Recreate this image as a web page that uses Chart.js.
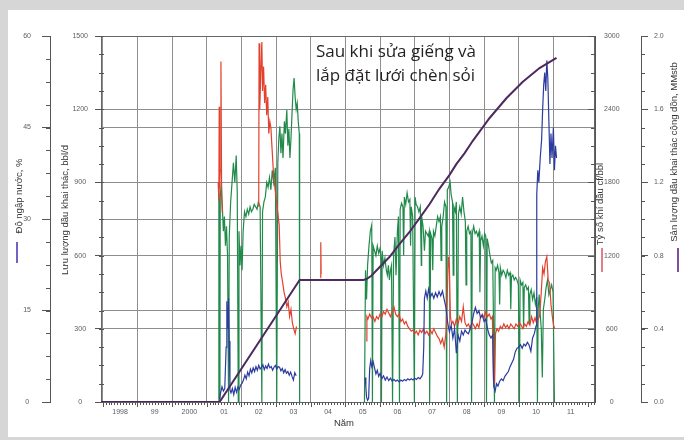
<!DOCTYPE html>
<html>
<head>
<meta charset="utf-8">
<script src="https://cdn.jsdelivr.net/npm/chart.js@4.4.1/dist/chart.umd.min.js"></script>
<style>
  html, body { margin: 0; padding: 0; background: #fff; }
  canvas { display: block; }
</style>
</head>
<body>
<canvas id="wellChart" width="684" height="440"></canvas>
<script>
// time axis: one gridline per year, short labels centred inside each year
const yearTicks = [1998, 1999, 2000, 2001, 2002, 2003, 2004, 2005, 2006, 2007, 2008, 2009, 2010, 2011];
const yearLabels = ['1998', '99', '2000', '01', '02', '03', '04', '05', '06', '07', '08', '09', '10', '11'];

// cumulative oil, MMstb  [year, value]
const cumOil = [
  [1997.95, 0], [2001.37, 0], [2003.68, 0.667], [2005.52, 0.667], [2005.61, 0.672], [2005.75, 0.69],
  [2005.99, 0.738], [2006.27, 0.792], [2006.56, 0.863], [2006.85, 0.929], [2007.14, 1.005],
  [2007.43, 1.082], [2007.71, 1.165], [2008.00, 1.240], [2008.20, 1.300], [2008.44, 1.360],
  [2008.67, 1.426], [2009.16, 1.552], [2009.65, 1.661], [2010.11, 1.749], [2010.60, 1.825], [2011.09, 1.880]
];

// oil rate, bbl/d  [year, value]
const oilRate = [
  [2001.34, 0], [2001.35, 880], [2001.36, 760], [2001.38, 0], [2001.39, 840], [2001.42, 900], [2001.45, 800],
  [2001.48, 700], [2001.51, 760], [2001.54, 640], [2001.57, 720], [2001.60, 600], [2001.63, 0], [2001.65, 680],
  [2001.69, 820], [2001.73, 900], [2001.77, 980], [2001.81, 900], [2001.85, 1010], [2001.88, 860], [2001.91, 0],
  [2001.93, 700], [2001.96, 560], [2001.99, 640], [2002.02, 540], [2002.05, 700], [2002.09, 780], [2002.13, 760],
  [2002.17, 790], [2002.21, 770], [2002.25, 800], [2002.29, 780], [2002.33, 790], [2002.37, 810], [2002.41, 800],
  [2002.45, 790], [2002.49, 820], [2002.54, 800], [2002.59, 0], [2002.61, 780], [2002.65, 820], [2002.69, 840],
  [2002.73, 900], [2002.77, 880], [2002.81, 920], [2002.85, 870], [2002.89, 950], [2002.93, 900], [2002.98, 960],
  [2003.02, 0], [2003.05, 980], [2003.08, 1080], [2003.11, 1130], [2003.14, 1020], [2003.17, 1100], [2003.20, 1000],
  [2003.24, 1150], [2003.27, 1100], [2003.31, 1197], [2003.34, 1050], [2003.37, 1120], [2003.40, 1000],
  [2003.43, 1080], [2003.46, 1180], [2003.49, 1280], [2003.52, 1328], [2003.55, 1250], [2003.58, 1200],
  [2003.61, 1225], [2003.64, 1150], [2003.67, 1100], [2003.68, 0], [2004.5, null],
  [2005.55, 0], [2005.58, 540], [2005.61, 420], [2005.64, 560], [2005.68, 640], [2005.72, 700], [2005.76, 726],
  [2005.78, 0], [2005.80, 640], [2005.84, 620], [2005.88, 600], [2005.92, 640], [2005.96, 610], [2006.00, 630],
  [2006.03, 580], [2006.04, 0], [2006.06, 620], [2006.10, 560], [2006.14, 590], [2006.18, 540], [2006.21, 520],
  [2006.24, 560], [2006.27, 500], [2006.30, 540], [2006.33, 560], [2006.36, 0], [2006.39, 600], [2006.43, 676],
  [2006.46, 520], [2006.50, 700], [2006.53, 760], [2006.56, 0], [2006.58, 790], [2006.62, 815], [2006.66, 800],
  [2006.68, 600], [2006.70, 840], [2006.74, 810], [2006.78, 857], [2006.82, 820], [2006.86, 830], [2006.88, 640],
  [2006.90, 800], [2006.94, 760], [2006.99, 0], [2007.01, 840], [2007.04, 810], [2007.08, 800], [2007.12, 780],
  [2007.16, 800], [2007.19, 560], [2007.20, 760], [2007.24, 720], [2007.28, 620], [2007.31, 700], [2007.35, 690],
  [2007.39, 680], [2007.42, 700], [2007.43, 0], [2007.46, 690], [2007.50, 670], [2007.52, 540], [2007.54, 700],
  [2007.58, 680], [2007.62, 720], [2007.66, 760], [2007.70, 740], [2007.74, 760], [2007.76, 580], [2007.78, 720],
  [2007.82, 760], [2007.86, 820], [2007.90, 800], [2007.92, 0], [2007.94, 869], [2007.98, 881], [2008.02, 902],
  [2008.05, 850], [2008.09, 820], [2008.11, 520], [2008.13, 800], [2008.17, 780], [2008.20, 820], [2008.23, 0],
  [2008.26, 770], [2008.30, 800], [2008.34, 770], [2008.38, 840], [2008.42, 780], [2008.46, 740], [2008.48, 480],
  [2008.50, 700], [2008.54, 720], [2008.58, 690], [2008.62, 700], [2008.64, 0], [2008.66, 690], [2008.70, 720],
  [2008.74, 690], [2008.78, 700], [2008.82, 680], [2008.86, 700], [2008.88, 450], [2008.90, 660], [2008.94, 680],
  [2008.98, 640], [2009.02, 690], [2009.05, 680], [2009.07, 0], [2009.09, 670], [2009.13, 640], [2009.17, 600],
  [2009.21, 570], [2009.25, 580], [2009.30, 0], [2009.32, 550], [2009.35, 540], [2009.39, 560], [2009.43, 530],
  [2009.45, 400], [2009.47, 550], [2009.51, 520], [2009.55, 540], [2009.59, 530], [2009.63, 510], [2009.67, 540],
  [2009.71, 520], [2009.75, 530], [2009.77, 380], [2009.79, 510], [2009.83, 520], [2009.87, 500], [2009.91, 510],
  [2009.95, 500], [2009.99, 480], [2010.02, 0], [2010.04, 500], [2010.08, 480], [2010.12, 490], [2010.14, 300],
  [2010.16, 470], [2010.20, 480], [2010.24, 460], [2010.28, 470], [2010.30, 320], [2010.32, 440], [2010.36, 460],
  [2010.40, 420], [2010.44, 447], [2010.48, 400], [2010.52, 430], [2010.54, 0], [2010.56, 380], [2010.59, 440],
  [2010.62, 360], [2010.65, 300], [2010.68, 100], [2010.71, 380], [2010.75, 420], [2010.79, 470], [2010.83, 500],
  [2010.87, 440], [2010.91, 460], [2010.95, 480], [2010.99, 450], [2011.03, 0]
];

// gas-oil ratio, cf/bbl  [year, value]
const gorRatio = [
  [2001.33, 1800], [2001.35, 1650], [2001.36, 2420], [2001.37, 1750], [2001.39, 1900], [2001.41, 2790],
  [2001.43, 1700], [2001.45, 1550], [2001.47, null],
  [2002.50, 1600], [2002.51, 2940], [2002.53, 2400], [2002.56, 2700], [2002.59, 2950], [2002.61, 2550],
  [2002.64, 2750], [2002.67, 2450], [2002.70, 2600], [2002.73, 2350], [2002.76, 2500], [2002.79, 2200],
  [2002.82, 2300], [2002.85, 2250], [2002.89, 2050], [2002.93, 1850], [2002.97, 1750], [2003.01, 1650],
  [2003.05, 1550], [2003.09, 1450], [2003.12, 1150], [2003.15, 1050], [2003.19, 980], [2003.23, 900],
  [2003.27, 850], [2003.31, 780], [2003.35, 820], [2003.39, 700], [2003.43, 760], [2003.47, 650],
  [2003.51, 600], [2003.55, 560], [2003.59, 620], [2003.62, null],
  [2004.28, 1020], [2004.29, 1310], [2004.30, 1050], [2004.5, null],
  [2005.60, 500], [2005.62, 700], [2005.65, 680], [2005.70, 720], [2005.75, 690], [2005.80, 700], [2005.85, 660],
  [2005.90, 700], [2005.95, 680], [2006.00, 720], [2006.05, 700], [2006.10, 740], [2006.15, 720], [2006.20, 760],
  [2006.25, 730], [2006.30, 700], [2006.35, 740], [2006.40, 780], [2006.45, 720], [2006.50, 700], [2006.55, 720],
  [2006.60, 660], [2006.65, 680], [2006.70, 640], [2006.75, 660], [2006.80, 620], [2006.85, 600], [2006.90, 580],
  [2006.95, 590], [2007.00, 560], [2007.05, 580], [2007.10, 550], [2007.15, 590], [2007.20, 570], [2007.25, 600],
  [2007.30, 560], [2007.35, 580], [2007.40, 550], [2007.45, 590], [2007.50, 560], [2007.55, 600], [2007.60, 570],
  [2007.65, 540], [2007.70, 520], [2007.75, 480], [2007.80, 520], [2007.85, 450], [2007.90, 560], [2007.94, 900],
  [2007.97, 1190], [2008.00, 1100], [2008.03, 700], [2008.06, 640], [2008.10, 660], [2008.15, 620], [2008.20, 680],
  [2008.25, 640], [2008.30, 700], [2008.35, 660], [2008.40, 780], [2008.45, 650], [2008.50, 620], [2008.55, 640],
  [2008.60, 600], [2008.65, 650], [2008.70, 630], [2008.75, 600], [2008.80, 640], [2008.85, 610], [2008.90, 700],
  [2008.95, 720], [2009.00, 690], [2009.05, 740], [2009.10, 700], [2009.15, 720], [2009.20, 680], [2009.24, 700],
  [2009.27, 180], [2009.30, 160], [2009.33, 560], [2009.37, 600], [2009.42, 580], [2009.47, 620], [2009.52, 600],
  [2009.57, 640], [2009.62, 610], [2009.67, 630], [2009.72, 600], [2009.77, 640], [2009.82, 620], [2009.87, 600],
  [2009.92, 640], [2009.97, 620], [2010.02, 650], [2010.07, 630], [2010.12, 600], [2010.17, 640], [2010.22, 620],
  [2010.27, 660], [2010.32, 630], [2010.37, 700], [2010.42, 650], [2010.47, 690], [2010.52, 640], [2010.56, 680],
  [2010.60, 700], [2010.65, 900], [2010.69, 1100], [2010.73, 1050], [2010.77, 1150], [2010.81, 1190],
  [2010.85, 1000], [2010.89, 975], [2010.93, 800], [2010.97, 700], [2011.01, 620], [2011.04, 600]
];

// water cut, %  [year, value]
const waterCut = [
  [2001.37, 0.5], [2001.40, 1.5], [2001.44, 2.5], [2001.48, 1.8], [2001.52, 2.2], [2001.56, 9], [2001.58, 16.5],
  [2001.61, 12], [2001.63, 17], [2001.65, 10], [2001.67, 2], [2001.70, 1.5], [2001.74, 2.2], [2001.78, 1.2],
  [2001.82, 2.4], [2001.86, 1.6], [2001.90, 2.5], [2001.94, 2.1], [2001.98, 2.8], [2002.02, 3.1], [2002.06, 3.6],
  [2002.10, 4.4], [2002.14, 3.8], [2002.18, 4.9], [2002.22, 4.3], [2002.26, 5.4], [2002.30, 4.8], [2002.34, 5.6],
  [2002.38, 5.0], [2002.42, 5.8], [2002.46, 5.2], [2002.50, 6.0], [2002.54, 5.4], [2002.58, 5.7], [2002.62, 6.1],
  [2002.66, 5.3], [2002.70, 5.9], [2002.74, 5.5], [2002.78, 6.2], [2002.82, 5.6], [2002.86, 5.8], [2002.90, 5.2],
  [2002.94, 5.7], [2002.98, 6.0], [2003.02, 5.4], [2003.06, 5.8], [2003.10, 5.7], [2003.14, 5.1], [2003.18, 5.5],
  [2003.22, 4.8], [2003.26, 5.3], [2003.30, 4.7], [2003.34, 5.0], [2003.38, 4.4], [2003.42, 4.9], [2003.46, 4.2],
  [2003.50, 3.6], [2003.54, 4.8], [2003.58, 4.3], [2003.61, null],
  [2005.57, 4], [2005.59, 2.5], [2005.61, 0.8], [2005.64, 0.3], [2005.67, 0.6], [2005.70, 5.5], [2005.73, 6.8],
  [2005.76, 5.8], [2005.80, 6.6], [2005.84, 5.6], [2005.88, 4.6], [2005.92, 5.2], [2005.96, 4.2], [2006.00, 4.7],
  [2006.05, 3.8], [2006.10, 4.3], [2006.15, 3.6], [2006.20, 4.1], [2006.25, 3.5], [2006.30, 3.9], [2006.35, 3.4],
  [2006.40, 3.7], [2006.45, 3.4], [2006.50, 3.6], [2006.55, 3.3], [2006.60, 3.6], [2006.65, 3.4], [2006.70, 3.7],
  [2006.75, 3.5], [2006.80, 3.8], [2006.85, 3.6], [2006.90, 3.8], [2006.95, 3.6], [2007.00, 3.9], [2007.05, 3.7],
  [2007.10, 4.0], [2007.15, 3.8], [2007.20, 4.2], [2007.23, 4.6], [2007.26, 9], [2007.28, 17], [2007.32, 18.2],
  [2007.36, 17], [2007.40, 18.5], [2007.45, 17.2], [2007.50, 17.8], [2007.55, 17], [2007.60, 17.9], [2007.65, 17.2],
  [2007.70, 18.1], [2007.75, 17.4], [2007.80, 18.2], [2007.85, 16.8], [2007.90, 15.5], [2007.95, 13], [2008.00, 11.5],
  [2008.05, 12.6], [2008.10, 10.5], [2008.15, 12], [2008.20, 8], [2008.25, 11], [2008.30, 10], [2008.35, 11.6],
  [2008.40, 11], [2008.45, 11.8], [2008.50, 11.4], [2008.55, 11.2], [2008.60, 12], [2008.65, 13], [2008.70, 14.5],
  [2008.75, 15.5], [2008.80, 14.5], [2008.85, 15], [2008.90, 13.8], [2008.95, 14.2], [2009.00, 13.2], [2009.05, 13.6],
  [2009.10, 12], [2009.15, 11], [2009.20, 10.5], [2009.25, 11], [2009.28, 2.5], [2009.32, 1.8], [2009.36, 3],
  [2009.40, 2.6], [2009.45, 3.4], [2009.50, 3.8], [2009.55, 3.5], [2009.60, 4.2], [2009.65, 4.6], [2009.70, 5],
  [2009.75, 5.8], [2009.80, 6.4], [2009.85, 7], [2009.90, 8.2], [2009.95, 8.8], [2010.00, 9], [2010.05, 9.4],
  [2010.10, 8.8], [2010.15, 9.5], [2010.20, 9.2], [2010.25, 9.8], [2010.30, 9.3], [2010.35, 8.3], [2010.40, 10.5],
  [2010.45, 11.2], [2010.50, 12.5], [2010.52, 34], [2010.55, 38], [2010.58, 36], [2010.62, 40], [2010.66, 43],
  [2010.69, 48], [2010.72, 52], [2010.75, 54], [2010.78, 51], [2010.81, 56], [2010.84, 53], [2010.87, 46],
  [2010.90, 39], [2010.93, 44], [2010.96, 40], [2011.00, 45], [2011.03, 38], [2011.06, 42], [2011.09, 40]
];

const titles = {
  water: 'Độ ngập nước, %',
  oil: 'Lưu lượng dầu khai thác, bbl/d',
  gor: 'Tỷ số khí dầu cf/bbl',
  cum: 'Sản lượng dầu khai thác cộng dồn, MMstb',
  year: 'Năm'
};
const noteLines = ['Sau khi sửa giếng và', 'lắp đặt lưới chèn sỏi'];

const colors = {
  oil: '#218a4b',
  gor: '#e2412d',
  water: '#2b3b9f',
  cum: '#4d2a5e',
  grid: '#8e8e8e',
  axis: '#555555',
  tick: '#5c5c5c'
};
const tickFont = { family: 'Liberation Sans, Arial, sans-serif', size: 7 };
const plain = v => String(v);

const toPoints = rows => rows.map(([x, y]) => ({ x, y }));
const yearGrid = scale => { scale.ticks = yearTicks.map(value => ({ value })); };

function series(label, rows, axis, color, width) {
  return {
    label,
    data: toPoints(rows),
    xAxisID: 'x',
    yAxisID: axis,
    borderColor: color,
    borderWidth: width,
    pointRadius: 0,
    tension: 0,
    spanGaps: false
  };
}

function vText(ctx, text, x, y) {
  ctx.save();
  ctx.translate(x, y);
  ctx.rotate(-Math.PI / 2);
  ctx.fillText(text, 0, 0);
  ctx.restore();
}

// frame, minor ticks, axis titles with their colour keys, and the note
const decorations = {
  id: 'decorations',
  beforeDraw(chart) {
    const { ctx, width, height } = chart;
    ctx.save();
    ctx.fillStyle = '#d6d6d6';
    ctx.fillRect(0, 0, width, height);
    ctx.fillStyle = '#ffffff';
    ctx.fillRect(8, 10, width - 8, height - 13);
    ctx.restore();
  },
  beforeDatasetsDraw(chart) {
    const { ctx, chartArea: a } = chart;
    ctx.save();
    ctx.strokeStyle = '#666';
    ctx.lineWidth = 1;
    ctx.strokeRect(a.left + 0.5, a.top + 0.5, a.right - a.left - 1, a.bottom - a.top);
    ctx.restore();
  },
  afterDraw(chart) {
    const { ctx, scales: s, chartArea: a } = chart;
    ctx.save();
    ctx.strokeStyle = colors.axis;
    ctx.lineWidth = 1;
    ctx.beginPath();
    const marks = (scale, step, x0, x1) => {
      const n = Math.round((scale.max - scale.min) / step);
      for (let i = 0; i <= n; i++) {
        const y = Math.round(scale.getPixelForValue(scale.min + i * step)) + 0.5;
        ctx.moveTo(x0, y);
        ctx.lineTo(x1, y);
      }
    };
    marks(s.yWater, 3.75, s.yWater.right - 4, s.yWater.right);
    marks(s.yOil, 75, s.yOil.right - 2, s.yOil.right + 3);
    marks(s.yGor, 150, s.yGor.left - 4, s.yGor.left);
    marks(s.yGor, 600, s.yGor.left - 7, s.yGor.left);
    marks(s.yCum, 0.1, s.yCum.left, s.yCum.left + 4);
    // monthly ticks under the time axis
    const months = Math.floor((s.x.max - 1998) * 12);
    for (let m = 0; m <= months; m++) {
      const x = Math.round(s.x.getPixelForValue(1998 + m / 12)) + 0.5;
      ctx.moveTo(x, a.bottom);
      ctx.lineTo(x, a.bottom + (m % 12 === 0 ? 5 : 3));
    }
    ctx.stroke();

    ctx.fillStyle = '#333';
    ctx.textAlign = 'center';
    ctx.textBaseline = 'middle';
    ctx.font = '9.5px "Liberation Sans", Arial, sans-serif';
    vText(ctx, titles.water, 19, 196);
    vText(ctx, titles.oil, 65, 210);
    vText(ctx, titles.gor, 600, 204);
    vText(ctx, titles.cum, 674, 152);
    ctx.fillText(titles.year, 344, 423);

    ctx.lineWidth = 2;
    [[17, 242, 263, '#6f63c4'], [602, 248, 272, '#e47d8e'], [678, 248, 272, '#7e4f9b']].forEach(([x, y0, y1, c]) => {
      ctx.strokeStyle = c;
      ctx.beginPath();
      ctx.moveTo(x, y0);
      ctx.lineTo(x, y1);
      ctx.stroke();
    });

    ctx.fillStyle = '#231f20';
    ctx.textAlign = 'left';
    ctx.font = '17px "Open Sans", sans-serif';
    ctx.fillText(noteLines[0], 316, 52);
    ctx.fillText(noteLines[1], 316, 76);
    ctx.restore();
  }
};

new Chart(document.getElementById('wellChart'), {
  type: 'line',
  data: {
    datasets: [
      series('Sản lượng cộng dồn', cumOil, 'yCum', colors.cum, 2),
      series('Độ ngập nước', waterCut, 'yWater', colors.water, 1.2),
      series('Tỷ số khí dầu', gorRatio, 'yGor', colors.gor, 1.2),
      series('Lưu lượng dầu', oilRate, 'yOil', colors.oil, 1.2)
    ]
  },
  options: {
    responsive: false,
    animation: false,
    devicePixelRatio: 1,
    layout: { padding: { top: 36, left: 0, right: 0, bottom: 0 } },
    plugins: { legend: { display: false }, tooltip: { enabled: false } },
    scales: {
      x: {
        type: 'linear', position: 'bottom', weight: 0, min: 1997.95, max: 2012.2,
        afterBuildTicks: yearGrid,
        afterFit: sc => { sc.height = 4; sc.paddingLeft = 0; sc.paddingRight = 0; },
        ticks: { display: false },
        grid: { color: colors.grid, drawTicks: false },
        border: { display: true, color: colors.axis }
      },
      xYears: {
        type: 'linear', position: 'bottom', weight: 1, min: 1997.45, max: 2011.7,
        afterBuildTicks: yearGrid,
        afterFit: sc => { sc.height = 34; sc.paddingLeft = 0; sc.paddingRight = 0; },
        ticks: {
          autoSkip: false, maxRotation: 0, padding: 2, font: tickFont, color: colors.tick,
          callback: (v, i) => yearLabels[i]
        },
        grid: { display: false, drawTicks: false },
        border: { display: false }
      },
      yWater: {
        type: 'linear', position: 'left', weight: 2, min: 0, max: 60,
        afterFit: sc => { sc.width = 50; },
        ticks: { stepSize: 15, padding: 11, crossAlign: 'center', font: tickFont, color: colors.tick, callback: plain },
        grid: { color: colors.grid, tickColor: colors.axis, tickLength: 8 },
        border: { display: true, color: colors.axis }
      },
      yOil: {
        type: 'linear', position: 'left', weight: 1, min: 0, max: 1500,
        afterFit: sc => { sc.width = 51; },
        ticks: { stepSize: 300, padding: 7, crossAlign: 'center', font: tickFont, color: colors.tick, callback: plain },
        grid: { color: colors.grid, tickColor: colors.axis, tickLength: 6 },
        border: { display: true, color: colors.axis }
      },
      yGor: {
        type: 'linear', position: 'right', weight: 1, min: 0, max: 3000,
        afterFit: sc => { sc.width = 46; },
        ticks: { stepSize: 600, padding: 9, crossAlign: 'center', font: tickFont, color: colors.tick, callback: plain },
        grid: { drawOnChartArea: false, drawTicks: false },
        border: { display: true, color: colors.axis }
      },
      yCum: {
        type: 'linear', position: 'right', weight: 2, min: 0, max: 2,
        afterFit: sc => { sc.width = 43; },
        ticks: {
          stepSize: 0.4, padding: 6, crossAlign: 'center', font: tickFont, color: colors.tick,
          callback: v => v.toFixed(1)
        },
        grid: { drawOnChartArea: false, tickColor: colors.axis, tickLength: 7 },
        border: { display: true, color: colors.axis }
      }
    }
  },
  plugins: [decorations]
});
</script>
</body>
</html>
